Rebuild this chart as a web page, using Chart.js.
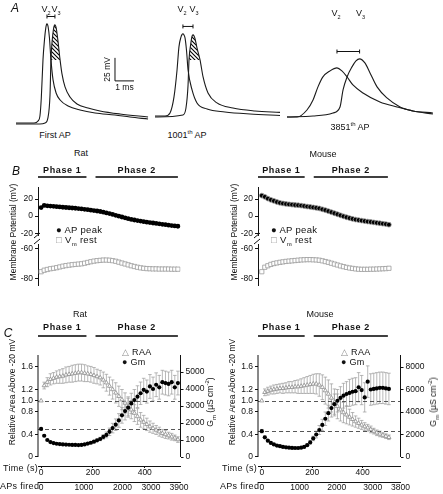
<!DOCTYPE html>
<html lang="en">
<head>
<meta charset="UTF-8">
<title>AP shape and conductance during firing</title>
<script src="https://cdn.jsdelivr.net/npm/chart.js"></script>
<style>
    body { margin: 0; width: 443px; height: 494px; position: relative; overflow: hidden; background: #fff;
           font-family: "Liberation Sans", Arial, sans-serif; color: #111; }
    canvas { position: absolute; }
    .c { position: absolute; transform: translate(-50%, -50%); white-space: nowrap; font-size: 9px; z-index: 2; }
    .r { position: absolute; transform: translate(-50%, -50%) rotate(-90deg); white-space: nowrap; font-size: 8.5px; z-index: 2; }
    .l { position: absolute; white-space: nowrap; font-size: 9.5px; line-height: 10px; letter-spacing: 0.3px; z-index: 2; }
    .p { font-style: italic; font-size: 12px; }
    sub, sup { font-size: 6px; line-height: 0; }
    .cinza { color: #8c8c8c; }
</style>
</head>
<body>

<div class="c p" style="left:15px;top:8px">A</div>
<div class="c p" style="left:16px;top:171px">B</div>
<div class="c p" style="left:8px;top:333px">C</div>

<div class="c" style="left:55px;top:135px">First AP</div>
<div class="c" style="left:187px;top:135px">1001<sup>th</sup> AP</div>
<div class="c" style="left:350px;top:127px">3851<sup>th</sup> AP</div>

<div class="c" style="left:81px;top:153px">Rat</div>
<div class="c" style="left:323px;top:154px">Mouse</div>
<div class="c" style="left:80px;top:314px">Rat</div>
<div class="c" style="left:320px;top:314px">Mouse</div>

<div class="r" style="left:13px;top:232px">Membrane Potential (mV)</div>
<div class="r" style="left:234px;top:232px">Membrane Potential (mV)</div>
<div class="l" style="left:56px;top:225px">&#9679; AP peak<br><span class="cinza">&#9633;</span> V<sub>m</sub> rest</div>
<div class="l" style="left:271px;top:225px">&#9679; AP peak<br><span class="cinza">&#9633;</span> V<sub>m</sub> rest</div>

<div class="r" style="left:12px;top:392px">Relative Area Above -20 mV</div>
<div class="r" style="left:232px;top:392px">Relative Area Above -20 mV</div>
<div class="r" style="left:210px;top:402px">G<sub>m</sub> (&micro;S cm<sup>-2</sup>)</div>
<div class="r" style="left:433px;top:402px">G<sub>m</sub> (&micro;S cm<sup>-2</sup>)</div>
<div class="l" style="left:122px;top:347px;font-size:9px"><span class="cinza">&#9651;</span> RAA<br>&#9679; Gm</div>
<div class="l" style="left:341px;top:347px;font-size:9px"><span class="cinza">&#9651;</span> RAA<br>&#9679; Gm</div>

<div class="l" style="left:3px;top:463px;font-size:9px">Time (s)</div>
<div class="l" style="left:0px;top:481px;font-size:9px">APs fired</div>
<div class="l" style="left:222px;top:463px;font-size:9px">Time (s)</div>
<div class="l" style="left:220px;top:481px;font-size:9px">APs fired</div>

<script>
    // ---------- A: traces (ms, mV) ----------
    const firstV2t = [0, 0.95, 1.16, 1.26, 1.33, 1.42, 1.50, 1.57, 1.60, 1.63, 1.66, 1.69, 1.76, 1.84, 1.95, 2.11, 2.32, 2.74, 3.37, 4.16, 5.21, 6.0, 6.95];
    const firstV2v = [-88.5, -88.5, -86.3, -80.9, -62, -20, 2, 15, 18, 19.1, 18.3, 16, 4, -20, -41.7, -55.9, -63.5, -70, -74.4, -77.6, -79.8, -82, -84.1];
    const firstV3t = [0, 1.26, 1.53, 1.68, 1.79, 1.84, 1.90, 1.97, 2.01, 2.05, 2.09, 2.13, 2.20, 2.32, 2.42, 2.58, 2.84, 3.21, 3.79, 4.42, 5.47, 6.95];
    const firstV3v = [-89.6, -89.6, -88.5, -83, -58, -20, 0, 13, 16.8, 18, 16.6, 13, 2, -20, -35.2, -49.3, -60.2, -67.8, -72.2, -75.4, -78.7, -82];

    const midV2t = [0, 0.53, 0.79, 1.0, 1.16, 1.26, 1.37, 1.42, 1.47, 1.52, 1.58, 1.66, 1.74, 1.95, 2.21, 2.74, 3.68, 5.0, 6.58];
    const midV2v = [-80.9, -80.9, -77.6, -60.2, -30.9, -5.9, 5, 7.4, 8.3, 7.2, 3.9, -10, -30.9, -52.6, -66.7, -73.3, -76.5, -78.7, -80.3];
    const midV3t = [0, 1.47, 1.63, 1.74, 1.79, 1.89, 1.95, 2.0, 2.05, 2.11, 2.21, 2.37, 2.53, 2.79, 3.26, 4.1, 5.26, 6.58];
    const midV3v = [-82, -79.8, -72.2, -47.2, -20, -1.5, 5.8, 7.2, 6.2, 2.8, -7, -20, -38.5, -55.9, -66.7, -72.2, -75.4, -77];

    const lateV2t = [0, 0.53, 1.05, 1.37, 1.63, 1.89, 2.26, 2.63, 2.89, 3.16, 3.47, 4.0, 4.89, 5.79, 6.63, 7.68];
    const lateV2v = [-82, -82, -74.4, -63.5, -49.3, -38.5, -32, -28.7, -32, -38.5, -47.2, -55.9, -65.7, -71.1, -75.4, -77.6];
    const lateV3t = [0, 1.37, 2.42, 2.79, 2.95, 3.16, 3.42, 3.63, 3.82, 4.1, 4.37, 4.74, 5.26, 5.95, 6.63, 7.68];
    const lateV3v = [-82, -80.9, -77.6, -71.1, -52.6, -38.5, -27.6, -21.1, -18.9, -23.3, -34.1, -49.3, -61.3, -71.1, -75.4, -78.7];

    const hatchLevel = -20;

    // ---------- B and C: time base (s) ----------
    const phaseNames = ['Phase 1', 'Phase 2'];
    const ratPhases = [[-12, 175], [210, 528]];
    const mousePhases = [[-15, 170], [206, 500]];

    const ratTime = [0, 12, 24, 36, 48, 60, 72, 84, 96, 108, 120, 132, 144, 156, 168, 180, 192, 204, 216, 228,
        240, 252, 264, 276, 288, 300, 312, 324, 336, 348, 360, 372, 384, 396, 408, 420, 432, 444, 456, 468,
        480, 492, 504, 516, 528];
    const mouseTime = [0, 12, 24, 36, 48, 60, 72, 84, 96, 108, 120, 132, 144, 156, 168, 180, 192, 204, 216, 228,
        240, 252, 264, 276, 288, 300, 312, 324, 336, 348, 360, 372, 384, 396, 408, 420, 432, 444, 456, 468,
        480, 492, 504];

    // B: membrane potential (mV)
    const ratApPeak = [10, 12.5, 12, 11.7, 11.4, 11, 10.7, 10.4, 10.1, 9.8, 9.5, 9.2, 8.8, 8.4, 8, 7.5, 7, 6.5, 6, 5.4,
        4.6, 3.8, 3, 2, 1, 0, -1, -2, -3, -3.8, -4.5, -5.2, -5.8, -6.4, -7, -7.5, -8, -8.5, -9, -9.5,
        -10, -10.5, -11, -11.4, -11.8];
    const ratVmRest = [-75.5, -74.5, -74, -73.5, -73.2, -72.8, -72.3, -71.8, -71.4, -71.1, -70.8, -70.6, -70.4, -70.2, -69.8, -69.3, -68.8, -68.4, -68.1, -67.9,
        -67.7, -67.7, -67.8, -68.1, -68.5, -69.1, -69.7, -70.3, -70.9, -71.5, -72, -72.5, -72.9, -73.2, -73.4, -73.5, -73.6, -73.6, -73.7, -73.7,
        -73.7, -73.7, -73.8, -73.8, -73.8];
    const mouseApPeak = [24, 22.5, 20.5, 19, 17.8, 16.5, 15.5, 14.8, 14.2, 13.8, 13.4, 13, 12.7, 12.3, 11.8, 11.2, 10.7, 10.2, 9.6, 9,
        8, 7, 5.8, 4.6, 3.4, 2.2, 1, -0.2, -1.3, -2.3, -3.2, -4, -4.6, -5.2, -5.8, -6.3, -6.8, -7.3, -7.8, -8.3,
        -8.8, -9.3, -10];
    const mouseVmRest = [-75.5, -72.5, -71.5, -70.6, -70, -69.6, -69.2, -68.9, -68.6, -68.4, -68.2, -68, -67.8, -67.6, -67.5, -67.4, -67.4, -67.5, -67.6, -67.8,
        -68.2, -68.7, -69.2, -69.8, -70.4, -71, -71.6, -72.1, -72.6, -73, -73.3, -73.6, -73.8, -73.9, -73.9, -73.9, -73.8, -73.8, -73.7, -73.6,
        -73.5, -73.4, -73.2];

    // C: relative area above -20 mV and Gm (uS cm-2)
    const ratRaa = [1.0, 1.27, 1.33, 1.38, 1.40, 1.42, 1.43, 1.44, 1.46, 1.47, 1.48, 1.49, 1.50, 1.50, 1.49, 1.48, 1.47, 1.45, 1.43, 1.41,
        1.37, 1.32, 1.26, 1.20, 1.14, 1.08, 1.02, 0.96, 0.90, 0.84, 0.78, 0.72, 0.66, 0.62, 0.58, 0.54, 0.51, 0.48, 0.45, 0.42,
        0.40, 0.38, 0.36, 0.34, 0.31];
    const ratRaaErr = [0, 0.06, 0.08, 0.1, 0.1, 0.11, 0.12, 0.13, 0.14, 0.14, 0.15, 0.15, 0.15, 0.15, 0.15, 0.14, 0.14, 0.14, 0.13, 0.13,
        0.14, 0.15, 0.16, 0.17, 0.18, 0.18, 0.18, 0.18, 0.17, 0.16, 0.15, 0.14, 0.13, 0.12, 0.11, 0.1, 0.09, 0.08, 0.08, 0.07,
        0.07, 0.06, 0.06, 0.05, 0.05];
    const ratGm = [1650, 1250, 1000, 880, 820, 780, 760, 740, 730, 720, 710, 710, 700, 710, 740, 790, 840, 900, 980, 1060,
        1180, 1300, 1480, 1700, 1900, 2150, 2450, 2700, 2900, 3150, 3350, 3550, 3750, 3950, 3850, 4150, 4000, 4250, 4100, 4400,
        4350, 4300, 4400, 4100, 4350];
    const ratGmErr = [60, 50, 40, 40, 40, 40, 40, 40, 40, 40, 40, 40, 40, 40, 50, 50, 60, 70, 80, 100,
        130, 170, 220, 280, 340, 400, 460, 520, 560, 600, 620, 640, 660, 680, 680, 700, 700, 700, 700, 700,
        700, 700, 700, 700, 700];

    const mouseRaa = [1.0, 1.15, 1.17, 1.19, 1.2, 1.21, 1.22, 1.22, 1.23, 1.24, 1.24, 1.25, 1.25, 1.26, 1.27, 1.28, 1.29, 1.30, 1.30, 1.28,
        1.24, 1.18, 1.12, 1.05, 0.97, 0.9, 0.84, 0.79, 0.75, 0.71, 0.67, 0.63, 0.6, 0.57, 0.54, 0.52, 0.49, 0.46, 0.43, 0.41,
        0.39, 0.37, 0.35];
    const mouseRaaErr = [0, 0.06, 0.07, 0.07, 0.08, 0.08, 0.08, 0.09, 0.09, 0.1, 0.1, 0.11, 0.12, 0.13, 0.14, 0.15, 0.16, 0.17, 0.18, 0.2,
        0.22, 0.24, 0.25, 0.25, 0.24, 0.22, 0.2, 0.18, 0.16, 0.14, 0.12, 0.1, 0.09, 0.08, 0.07, 0.06, 0.06, 0.05, 0.05, 0.05,
        0.04, 0.04, 0.04];
    const mouseGm = [2300, 1750, 1450, 1250, 1120, 1020, 960, 900, 860, 830, 810, 800, 800, 830, 900, 1050, 1300, 1650, 2000, 2400,
        2850, 3400, 3900, 4350, 4700, 5000, 5250, 5450, 5600, 5700, 5800, 5850, 6200, 5950, 5300, 6700, 6000, 6050, 6100, 6150,
        6150, 6100, 6050];
    const mouseGmErr = [150, 120, 100, 90, 80, 80, 80, 80, 80, 80, 80, 80, 80, 80, 90, 100, 150, 200, 300, 400,
        500, 600, 700, 800, 900, 1000, 1000, 1100, 1100, 1200, 1200, 1200, 1300, 1300, 1300, 1400, 1400, 1400, 1400, 1400,
        1400, 1400, 1400];

    // tick labels
    const bUpperTicks = [-20, 0, 20];
    const bLowerTicks = [-80, -60];
    const raaTicks = [0, 0.4, 0.8, 1, 1.2, 1.6];
    const ratGmTicks = [0, 1000, 2000, 3000, 4000, 5000];
    const mouseGmTicks = [0, 2000, 4000, 6000, 8000];
    const timeTicks = [0, 200, 400];
    const ratApTimes = [0, 165, 314, 424, 532];
    const ratApLabels = ['0', '1000', '2000', '3000', '3900'];
    const mouseApTimes = [0, 150, 297, 440, 550];
    const mouseApLabels = ['0', '1000', '2000', '3000', '3800'];
    const ratRefLines = [1, 0.5];
    const mouseRefLines = [1, 0.46];

    // ---------- helpers ----------
    const FONTE = '"Liberation Sans", Arial, sans-serif';
    Chart.defaults.font.family = FONTE;
    Chart.defaults.font.size = 8.5;
    Chart.defaults.color = '#111';
    Chart.defaults.animation = false;
    Chart.defaults.plugins.legend.display = false;
    Chart.defaults.plugins.tooltip.enabled = false;

    function novoCanvas(left, top, w, h) {
        const c = document.createElement('canvas');
        c.width = w; c.height = h;
        c.style.left = left + 'px'; c.style.top = top + 'px';
        c.style.width = w + 'px'; c.style.height = h + 'px';
        document.body.appendChild(c);
        return c;
    }

    function pts(xs, ys) {
        return xs.map((x, i) => ({ x: x, y: ys[i] }));
    }

    function fixos(lista) {
        return s => { s.ticks = lista.map(v => ({ value: v })); };
    }

    function hachura() {
        const c = document.createElement('canvas');
        c.width = 4; c.height = 4;
        const g = c.getContext('2d');
        g.fillStyle = '#fff'; g.fillRect(0, 0, 4, 4);
        g.strokeStyle = '#000'; g.lineWidth = 1.1;
        g.beginPath();
        g.moveTo(-1, -1); g.lineTo(5, 5);
        g.moveTo(3, -1); g.lineTo(5, 1);
        g.moveTo(-1, 3); g.lineTo(1, 5);
        g.stroke();
        return g.createPattern(c, 'repeat');
    }

    function picoT(ts, vs) {
        let k = 0;
        vs.forEach((v, i) => { if (v > vs[k]) k = i; });
        return { t: ts[k], v: vs[k] };
    }

    function rotuloV(ctx, n, x, y) {
        ctx.textAlign = 'center'; ctx.textBaseline = 'middle';
        ctx.font = '9px ' + FONTE;
        ctx.fillText('V', x - 1.5, y);
        ctx.font = '5.5px ' + FONTE;
        ctx.fillText(n, x + 3, y + 3);
    }

    // ---------- panel A ----------
    const MS_PX = 19;      // px per ms
    function graficoTraco(left, w, t2, v2, t3, v3, opc) {
        const cv = novoCanvas(left, 0, w, 129);
        const p2 = picoT(t2, v2), p3 = picoT(t3, v3);
        const linha = { borderColor: '#1a1a1a', borderWidth: 1.1, pointRadius: 0, fill: false, cubicInterpolationMode: 'monotone' };
        const ds = [
            Object.assign({ data: pts(t2, v2) }, linha),
            Object.assign({ data: pts(t3, v3) }, linha)
        ];
        if (opc.hachura) {
            ds.push({
                data: pts(t3, v3).filter(p => p.y >= hatchLevel),
                fill: { value: hatchLevel }, backgroundColor: hachura(),
                borderWidth: 0, pointRadius: 0, cubicInterpolationMode: 'monotone'
            });
        }
        const marcas = {
            id: 'marcas',
            afterDraw(chart) {
                const ctx = chart.ctx, xs = chart.scales.x, ys = chart.scales.y;
                const a = xs.getPixelForValue(p2.t), b = xs.getPixelForValue(p3.t);
                const y = ys.getPixelForValue(Math.max(p2.v, p3.v) + 8);
                ctx.save();
                ctx.strokeStyle = '#111'; ctx.fillStyle = '#111'; ctx.lineWidth = 1;
                ctx.beginPath();
                ctx.moveTo(a, y); ctx.lineTo(b, y);
                ctx.moveTo(a, y - 2); ctx.lineTo(a, y + 2);
                ctx.moveTo(b, y - 2); ctx.lineTo(b, y + 2);
                ctx.stroke();
                rotuloV(ctx, '2', a - 1, opc.topo);
                rotuloV(ctx, '3', b + 1, opc.topo);
                if (opc.escala) {
                    const e = opc.escala;
                    const x0 = xs.getPixelForValue(e.t), y0 = ys.getPixelForValue(e.v);
                    const x1 = xs.getPixelForValue(e.t + 1), y1 = ys.getPixelForValue(e.v + 25);
                    ctx.beginPath();
                    ctx.moveTo(x0, y1); ctx.lineTo(x0, y0); ctx.lineTo(x1, y0);
                    ctx.stroke();
                    ctx.font = '8.5px ' + FONTE;
                    ctx.textAlign = 'center'; ctx.textBaseline = 'middle';
                    ctx.fillText('1 ms', (x0 + x1) / 2, y0 + 7);
                    ctx.translate(x0 - 7, (y0 + y1) / 2);
                    ctx.rotate(-Math.PI / 2);
                    ctx.fillText('25 mV', 0, 0);
                }
                ctx.restore();
            }
        };
        new Chart(cv, {
            type: 'line',
            data: { datasets: ds },
            options: {
                responsive: false,
                layout: { padding: 0 },
                scales: {
                    x: { type: 'linear', display: false, min: 0, max: w / MS_PX },
                    y: { display: false, min: -95, max: 45 }
                }
            },
            plugins: [marcas]
        });
    }

    graficoTraco(16, 134, firstV2t, firstV2v, firstV3t, firstV3v, { hachura: true, topo: 10, escala: { t: 5.21, v: -42.8 } });
    graficoTraco(155, 128, midV2t, midV2v, midV3t, midV3v, { hachura: true, topo: 10 });
    graficoTraco(287, 147, lateV2t, lateV2v, lateV3t, lateV3v, { hachura: false, topo: 14 });

    // ---------- plugins for B and C ----------
    function pluginFases(bounds, yBar, yTxt) {
        return {
            id: 'fases',
            afterDraw(chart) {
                const ctx = chart.ctx, xs = chart.scales.x;
                ctx.save();
                ctx.strokeStyle = '#000'; ctx.lineWidth = 1.4; ctx.fillStyle = '#111';
                ctx.font = 'bold 9px ' + FONTE;
                ctx.letterSpacing = '0.6px';
                ctx.textAlign = 'center'; ctx.textBaseline = 'middle';
                bounds.forEach((b, i) => {
                    const a = xs.getPixelForValue(b[0]), z = xs.getPixelForValue(b[1]);
                    ctx.beginPath(); ctx.moveTo(a, yBar); ctx.lineTo(z, yBar); ctx.stroke();
                    ctx.fillText(phaseNames[i], (a + z) / 2, yTxt);
                });
                ctx.restore();
            }
        };
    }

    const pluginQuebra = {
        id: 'quebra',
        afterDraw(chart) {
            const ctx = chart.ctx, x0 = chart.chartArea.left, y0 = chart.chartArea.bottom;
            ctx.save();
            ctx.strokeStyle = '#111'; ctx.lineWidth = 1;
            ctx.beginPath();
            ctx.moveTo(x0 - 4, y0 + 3); ctx.lineTo(x0 + 2, y0 - 2);
            ctx.moveTo(x0 - 4, y0 + 9); ctx.lineTo(x0 + 2, y0 + 4);
            ctx.stroke();
            ctx.restore();
        }
    };

    const pluginErros = {
        id: 'erros',
        beforeDatasetsDraw(chart) {
            const ctx = chart.ctx;
            chart.data.datasets.forEach((ds, i) => {
                if (!ds.erros) return;
                const ys = chart.scales[ds.yAxisID], meta = chart.getDatasetMeta(i);
                ctx.save();
                ctx.strokeStyle = '#9a9a9a'; ctx.lineWidth = 0.7;
                ds.data.forEach((p, j) => {
                    const e = ds.erros[j];
                    if (!e) return;
                    const x = meta.data[j].x;
                    const ya = ys.getPixelForValue(p.y + e), yb = ys.getPixelForValue(p.y - e);
                    ctx.beginPath();
                    ctx.moveTo(x, ya); ctx.lineTo(x, yb);
                    ctx.moveTo(x - 1.8, ya); ctx.lineTo(x + 1.8, ya);
                    ctx.moveTo(x - 1.8, yb); ctx.lineTo(x + 1.8, yb);
                    ctx.stroke();
                });
                ctx.restore();
            });
        }
    };

    function pluginGuias(refs) {
        return {
            id: 'guias',
            beforeDatasetsDraw(chart) {
                const ctx = chart.ctx, ca = chart.chartArea, y = chart.scales.y;
                ctx.save();
                ctx.strokeStyle = '#444'; ctx.lineWidth = 0.9; ctx.setLineDash([4, 3]);
                refs.forEach(r => {
                    const py = Math.round(y.getPixelForValue(r)) + 0.5;
                    ctx.beginPath(); ctx.moveTo(ca.left, py); ctx.lineTo(ca.right, py); ctx.stroke();
                });
                ctx.setLineDash([]);
                ctx.strokeStyle = '#111'; ctx.lineWidth = 1;
                const y0 = y.getPixelForValue(0);
                ctx.beginPath();
                ctx.moveTo(ca.left, y0); ctx.lineTo(ca.left, ca.top);
                ctx.moveTo(ca.right, y0); ctx.lineTo(ca.right, ca.top);
                ctx.stroke();
                ctx.restore();
            }
        };
    }

    function eixoY(ticks, min, max) {
        return {
            min: min, max: max,
            afterFit: s => { s.width = 38; },
            afterBuildTicks: fixos(ticks),
            grid: { drawOnChartArea: false, tickLength: 3, color: '#111' },
            border: { color: '#111' },
            ticks: { padding: 2 }
        };
    }

    // ---------- panel B ----------
    function graficoB(left, w, xMin, xMax, fases, tempo, pico, repouso, bordaPico) {
        const direita = w - 38 - 142.5;
        const cima = novoCanvas(left, 162, w, 84);
        new Chart(cima, {
            type: 'scatter',
            data: {
                datasets: [{
                    data: pts(tempo, pico), pointStyle: 'circle', pointRadius: 2.4,
                    backgroundColor: '#000', borderColor: bordaPico, borderWidth: bordaPico === '#000' ? 0 : 0.8
                }]
            },
            options: {
                responsive: false,
                layout: { padding: { top: 25, bottom: 11, right: direita, left: 0 } },
                scales: {
                    x: { type: 'linear', display: false, min: xMin, max: xMax },
                    y: eixoY(bUpperTicks, -22, 34)
                }
            },
            plugins: [pluginFases(fases, 15, 9), pluginQuebra]
        });

        const baixo = novoCanvas(left, 237, w, 56);
        new Chart(baixo, {
            type: 'scatter',
            data: {
                datasets: [{
                    data: pts(tempo, repouso), pointStyle: 'rect', pointRadius: 3,
                    backgroundColor: '#fff', borderColor: '#9a9a9a', borderWidth: 0.8
                }]
            },
            options: {
                responsive: false,
                layout: { padding: { top: 6, bottom: 4, right: direita, left: 0 } },
                scales: {
                    x: { type: 'linear', display: false, min: xMin, max: xMax },
                    y: eixoY(bLowerTicks, -85, -57)
                }
            }
        });
    }

    graficoB(0, 220, -12, 538, ratPhases, ratTime, ratApPeak, ratVmRest, '#000');
    graficoB(220, 223, -15, 550, mousePhases, mouseTime, mouseApPeak, mouseVmRest, '#9a9a9a');

    // ---------- panel C ----------
    function graficoC(left, w, xMin, xMax, fases, tempo, raa, raaErr, gm, gmErr, gmMin, gmMax, gmTicks, apTimes, apLabels, refs) {
        const cv = novoCanvas(left, 320, w, 174);
        const yRaa = eixoY(raaTicks, -0.16, 1.813);
        yRaa.position = 'left';
        yRaa.border = { display: false };
        new Chart(cv, {
            type: 'scatter',
            data: {
                datasets: [
                    {
                        data: pts(tempo, gm), yAxisID: 'y1', erros: gmErr,
                        pointStyle: 'circle', pointRadius: 2.1, backgroundColor: '#000', borderWidth: 0
                    },
                    {
                        data: pts(tempo, raa), yAxisID: 'y', erros: raaErr,
                        pointStyle: 'triangle', pointRadius: 2.4, backgroundColor: '#fff', borderColor: '#8c8c8c', borderWidth: 0.8
                    }
                ]
            },
            options: {
                responsive: false,
                layout: { padding: { top: 35, bottom: 0, left: 0, right: 0 } },
                scales: {
                    x: {
                        type: 'linear', position: 'bottom', weight: 0, min: xMin, max: xMax,
                        afterFit: s => { s.height = 16; },
                        afterBuildTicks: fixos(timeTicks),
                        grid: { drawOnChartArea: false, tickLength: 2, color: '#111' },
                        border: { color: '#111' },
                        ticks: { padding: 0, maxRotation: 0, autoSkip: false }
                    },
                    x2: {
                        type: 'linear', position: 'bottom', weight: 1, min: xMin, max: xMax,
                        afterFit: s => { s.height = 12; },
                        afterBuildTicks: fixos(apTimes),
                        grid: { drawOnChartArea: false, tickLength: 0 },
                        border: { color: '#111' },
                        ticks: { padding: 1, maxRotation: 0, autoSkip: false, callback: (v, i) => apLabels[i] }
                    },
                    y: yRaa,
                    y1: {
                        position: 'right', min: gmMin, max: gmMax,
                        afterFit: s => { s.width = w - 38 - 142.5; },
                        afterBuildTicks: fixos(gmTicks),
                        grid: { drawOnChartArea: false, tickLength: 3, color: '#111' },
                        border: { display: false },
                        ticks: { padding: 2, callback: v => String(v) }
                    }
                }
            },
            plugins: [pluginErros, pluginGuias(refs), pluginFases(fases, 16, 8)]
        });
    }

    graficoC(0, 220, -12, 538, ratPhases, ratTime, ratRaa, ratRaaErr, ratGm, ratGmErr, -529, 6000, ratGmTicks, ratApTimes, ratApLabels, ratRefLines);
    graficoC(220, 223, -15, 550, mousePhases, mouseTime, mouseRaa, mouseRaaErr, mouseGm, mouseGmErr, -800, 9067, mouseGmTicks, mouseApTimes, mouseApLabels, mouseRefLines);
</script>
</body>
</html>
